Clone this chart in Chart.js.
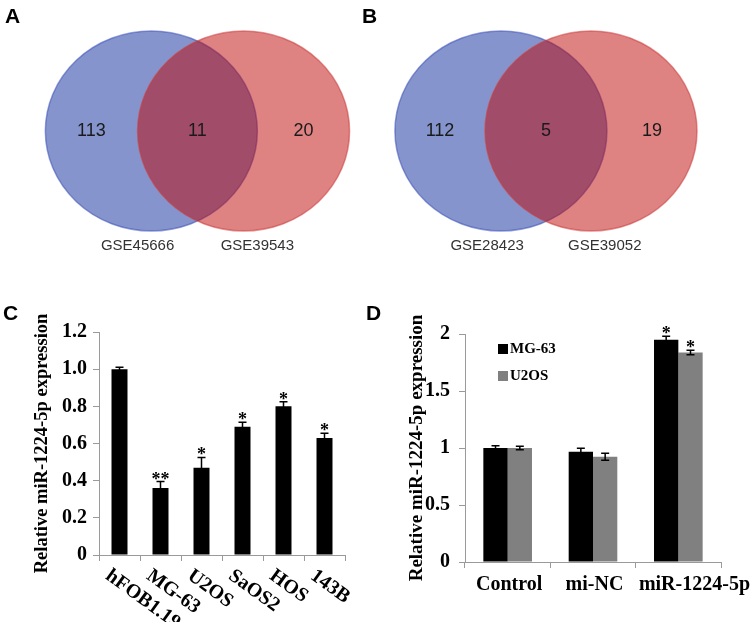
<!DOCTYPE html>
<html><head><meta charset="utf-8">
<script src="https://cdn.jsdelivr.net/npm/chart.js@4.4.1/dist/chart.umd.min.js"></script>
<style>
html,body{margin:0;padding:0;background:#fff;}
#fig{position:relative;width:750px;height:622px;overflow:hidden;background:#fff;}
canvas{position:absolute;}
.tag{position:absolute;font-family:"Liberation Sans",Arial,sans-serif;font-weight:bold;font-size:21px;line-height:1;color:#000;}
</style></head><body>
<div id="fig">
<canvas id="vennA" width="375" height="300" style="left:0;top:0"></canvas>
<canvas id="vennB" width="375" height="300" style="left:375px;top:0"></canvas>
<canvas id="barC" width="375" height="322" style="left:0;top:300px"></canvas>
<canvas id="barD" width="375" height="322" style="left:375px;top:300px"></canvas>
<div class="tag" style="left:5px;top:5px">A</div>
<div class="tag" style="left:362px;top:5px">B</div>
<div class="tag" style="left:3px;top:302px">C</div>
<div class="tag" style="left:366px;top:302px">D</div>
</div>
<script>
// ---------- data ----------
const vennASets = ['GSE45666', 'GSE39543'];
const vennACounts = [113, 11, 20];
const vennBSets = ['GSE28423', 'GSE39052'];
const vennBCounts = [112, 5, 19];

const cellLines = ['hFOB1.19', 'MG-63', 'U2OS', 'SaOS2', 'HOS', '143B'];
const expressionC = [1.00, 0.36, 0.47, 0.69, 0.80, 0.63];
const errorC = [0.01, 0.035, 0.055, 0.025, 0.025, 0.025];
const sigC = ['', '**', '*', '*', '*', '*'];

const groupsD = ['Control', 'mi-NC', 'miR-1224-5p'];
const seriesD = ['MG-63', 'U2OS'];
const mg63D = [1.00, 0.967, 1.95];
const mg63ErrD = [0.02, 0.03, 0.03];
const u2osD = [1.00, 0.923, 1.838];
const u2osErrD = [0.015, 0.03, 0.02];
const sigMg63D = ['', '', '*'];
const sigU2osD = ['', '', '*'];

const yTitle = 'Relative miR-1224-5p expression';
const SERIF = '"Liberation Serif","Times New Roman",serif';
const SANS = '"Liberation Sans",Arial,sans-serif';

// ---------- plugins ----------
const vennPlugin = {
  id: 'venn',
  beforeDatasetsDraw(chart) {
    const {ctx, scales: {x, y}} = chart;
    chart.data.datasets.forEach((ds, i) => {
      if (!ds.vennFill) return;
      const p = chart.getDatasetMeta(i).data[0];
      const c = ds.data[0];
      const rx = x.getPixelForValue(c.x + 1) - x.getPixelForValue(c.x);
      const ry = y.getPixelForValue(c.y) - y.getPixelForValue(c.y + 1);
      ctx.save();
      ctx.beginPath();
      ctx.ellipse(p.x, p.y, rx, ry, 0, 0, Math.PI * 2);
      ctx.fillStyle = ds.vennFill;
      ctx.fill();
      ctx.lineWidth = 1.5;
      ctx.strokeStyle = ds.vennEdge;
      ctx.stroke();
      ctx.restore();
    });
  },
  afterDatasetsDraw(chart) {
    const {ctx} = chart;
    chart.data.datasets.forEach((ds, i) => {
      if (!ds.vennText) return;
      const meta = chart.getDatasetMeta(i);
      ctx.save();
      ctx.font = ds.vennFont;
      ctx.fillStyle = ds.vennColor;
      ctx.textAlign = 'center';
      ctx.textBaseline = 'middle';
      meta.data.forEach((p, j) => ctx.fillText(String(ds.data[j].t), p.x, p.y));
      ctx.restore();
    });
  }
};

function vennConfig(sets, counts, geo) {
  const c1 = -geo.sep / 2, c2 = geo.sep / 2;
  const regionX = [(c1 + c2) / 2 - 1, (c1 + c2) / 2, (c1 + c2) / 2 + 1];
  return {
    type: 'scatter',
    data: {
      datasets: [
        {label: sets[0], data: [{x: c1, y: 0}], pointRadius: 0,
         vennFill: 'rgba(11,41,153,0.5)', vennEdge: 'rgba(60,80,185,0.55)'},
        {label: sets[1], data: [{x: c2, y: 0}], pointRadius: 0,
         vennFill: 'rgba(189,5,5,0.5)', vennEdge: 'rgba(205,60,60,0.55)'},
        {label: 'counts', data: counts.map((n, i) => ({x: regionX[i], y: 0, t: n})), pointRadius: 0,
         vennText: true, vennFont: '18px ' + SANS, vennColor: '#1a1a1a'},
        {label: 'names', data: sets.map((s, i) => ({x: i ? c2 + 0.13 : c1 - 0.13, y: -1.15, t: s})), pointRadius: 0,
         vennText: true, vennFont: '15px ' + SANS, vennColor: '#333'}
      ]
    },
    options: {
      responsive: false, animation: false, events: [],
      layout: {padding: 0},
      plugins: {legend: {display: false}, tooltip: {enabled: false}},
      scales: {
        x: {type: 'linear', display: false, min: geo.xMin, max: geo.xMax},
        y: {type: 'linear', display: false, min: -1.69, max: 1.31}
      }
    },
    plugins: [vennPlugin]
  };
}

const errorBars = {
  id: 'errorBars',
  afterDatasetsDraw(chart) {
    const {ctx, scales: {y}} = chart;
    chart.data.datasets.forEach((ds, i) => {
      if (!ds.errors) return;
      const meta = chart.getDatasetMeta(i);
      meta.data.forEach((bar, j) => {
        const v = ds.data[j], e = ds.errors[j];
        const top = y.getPixelForValue(v + e), bot = y.getPixelForValue(v - e);
        ctx.save();
        ctx.strokeStyle = '#000';
        ctx.lineWidth = 1.5;
        ctx.beginPath();
        ctx.moveTo(bar.x, top); ctx.lineTo(bar.x, bot);
        ctx.moveTo(bar.x - 4, top); ctx.lineTo(bar.x + 4, top);
        ctx.moveTo(bar.x - 4, bot); ctx.lineTo(bar.x + 4, bot);
        ctx.stroke();
        if (ds.sig && ds.sig[j]) {
          ctx.font = 'bold 18px ' + SERIF;
          ctx.fillStyle = '#000';
          ctx.textAlign = 'center';
          ctx.textBaseline = 'alphabetic';
          ctx.fillText(ds.sig[j], bar.x, top + 3);
        }
        ctx.restore();
      });
    });
  }
};

const slantLabels = {
  id: 'slantLabels',
  afterDraw(chart) {
    const {ctx, scales: {x}, chartArea} = chart;
    ctx.save();
    ctx.font = 'bold 20px ' + SERIF;
    ctx.fillStyle = '#000';
    ctx.textAlign = 'left';
    ctx.textBaseline = 'alphabetic';
    chart.data.labels.forEach((lab, i) => {
      const px = x.getPixelForValue(i);
      ctx.save();
      ctx.translate(px - 15, chartArea.bottom + 23);
      ctx.rotate(36 * Math.PI / 180);
      ctx.fillText(lab, 0, 0);
      ctx.restore();
    });
    ctx.restore();
  }
};

// category labels under each group; the last one runs to the panel's right edge
const flatLabels = {
  id: 'flatLabels',
  afterDraw(chart) {
    const {ctx, scales: {x}, chartArea, width} = chart;
    const labels = chart.data.labels;
    ctx.save();
    ctx.font = 'bold 20px ' + SERIF;
    ctx.fillStyle = '#000';
    ctx.textBaseline = 'alphabetic';
    labels.forEach((lab, i) => {
      if (i === labels.length - 1) {
        ctx.textAlign = 'right';
        ctx.fillText(lab, width, chartArea.bottom + 28);
      } else {
        ctx.textAlign = 'center';
        ctx.fillText(lab, x.getPixelForValue(i) + 1.5, chartArea.bottom + 28);
      }
    });
    ctx.restore();
  }
};

const innerLegend = {
  id: 'innerLegend',
  afterDraw(chart) {
    const {ctx, chartArea} = chart;
    ctx.save();
    ctx.font = 'bold 15px ' + SERIF;
    ctx.textBaseline = 'middle';
    ctx.textAlign = 'left';
    chart.data.datasets.forEach((ds, i) => {
      const x0 = chartArea.left + 33, y0 = chartArea.top + 10 + i * 27;
      ctx.fillStyle = ds.backgroundColor;
      ctx.fillRect(x0, y0, 10, 10);
      ctx.fillStyle = '#000';
      ctx.fillText(ds.label, x0 + 12, y0 + 5.5);
    });
    ctx.restore();
  }
};

// ---------- charts ----------
new Chart(document.getElementById('vennA'),
  vennConfig(vennASets, vennACounts, {sep: 0.87, xMin: -1.863, xMax: 1.675}));
new Chart(document.getElementById('vennB'),
  vennConfig(vennBSets, vennBCounts, {sep: 0.85, xMin: -1.613, xMax: 1.925}));

const axisGray = '#9a9a9a';

new Chart(document.getElementById('barC'), {
  type: 'bar',
  data: {
    labels: cellLines,
    datasets: [{
      label: 'Relative expression', data: expressionC, errors: errorC, sig: sigC,
      backgroundColor: '#000', borderWidth: 0, barPercentage: 0.39, categoryPercentage: 1
    }]
  },
  options: {
    responsive: false, animation: false, events: [],
    layout: {padding: {left: 27, top: 32, right: 30, bottom: 0}},
    plugins: {legend: {display: false}, tooltip: {enabled: false}},
    scales: {
      x: {
        grid: {offset: true, drawOnChartArea: false, drawTicks: true, tickLength: 6, color: axisGray},
        border: {color: axisGray},
        ticks: {display: false},
        afterFit(s) { s.height = 67; }
      },
      y: {
        min: 0, max: 1.2,
        ticks: {stepSize: 0.2, color: '#000', padding: 6, font: {family: SERIF, weight: 'bold', size: 20},
                callback: v => (v === 0 ? '0' : Number(v).toFixed(1))},
        grid: {drawOnChartArea: false, tickLength: 6, color: axisGray},
        border: {color: axisGray},
        title: {display: true, text: yTitle, color: '#000', padding: {top: 4, bottom: 0},
                font: {family: SERIF, weight: 'bold', size: 18.5}},
        afterFit(s) { s.width = 72; }
      }
    }
  },
  plugins: [errorBars, slantLabels]
});

new Chart(document.getElementById('barD'), {
  type: 'bar',
  data: {
    labels: groupsD,
    datasets: [
      {label: seriesD[0], data: mg63D, errors: mg63ErrD, sig: sigMg63D, backgroundColor: '#000',
       borderWidth: 0, barPercentage: 1, categoryPercentage: 0.57},
      {label: seriesD[1], data: u2osD, errors: u2osErrD, sig: sigU2osD, backgroundColor: '#808080',
       borderWidth: 0, barPercentage: 1, categoryPercentage: 0.57}
    ]
  },
  options: {
    responsive: false, animation: false, events: [],
    layout: {padding: {left: 27, top: 34, right: 29, bottom: 0}},
    plugins: {legend: {display: false}, tooltip: {enabled: false}},
    scales: {
      x: {
        grid: {offset: true, drawOnChartArea: false, drawTicks: true, tickLength: 6, color: axisGray},
        border: {color: axisGray},
        ticks: {display: false},
        afterFit(s) { s.height = 60; }
      },
      y: {
        min: 0, max: 2,
        ticks: {stepSize: 0.5, color: '#000', padding: 9, font: {family: SERIF, weight: 'bold', size: 20},
                callback: v => String(v)},
        grid: {drawOnChartArea: false, tickLength: 6, color: axisGray},
        border: {color: axisGray},
        title: {display: true, text: yTitle, color: '#000', padding: {top: 4, bottom: 0},
                font: {family: SERIF, weight: 'bold', size: 19}},
        afterFit(s) { s.width = 63; }
      }
    }
  },
  plugins: [errorBars, innerLegend, flatLabels]
});
</script>
</body></html>
